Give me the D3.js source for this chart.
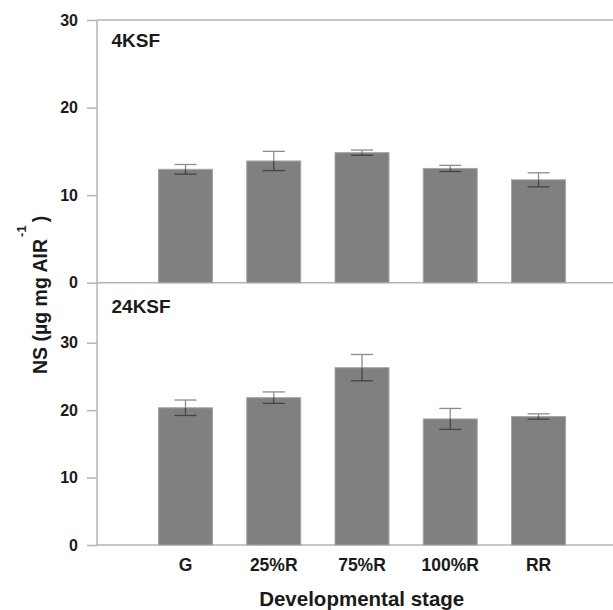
<!DOCTYPE html>
<html>
<head>
    <meta charset="utf-8">
    <title>NS by developmental stage</title>
    <script src="https://d3js.org/d3.v7.min.js"></script>
    <style>
        body { margin: 0; background: #fff; }
        text { font-family: "Liberation Sans", Arial, sans-serif; font-weight: bold; fill: #1a1a1a; }
    </style>
</head>
<body>
    <div id="chart"></div>

    <script>
        // data
        const stages = ["G", "25%R", "75%R", "100%R", "RR"];
        const ns4 = [12.95, 13.9, 14.85, 13.05, 11.75];
        const err4 = [0.55, 1.1, 0.3, 0.35, 0.8];
        const ns24 = [20.35, 21.85, 26.3, 18.7, 19.05];
        const err24 = [1.15, 0.85, 1.95, 1.55, 0.4];
        const yTicks = [0, 10, 20, 30];

        const W = 613, H = 610;
        const axisX = 97;

        const svg = d3.select("#chart")
            .append("svg")
            .attr("width", W)
            .attr("height", H);

        const x = d3.scaleBand()
            .domain(stages)
            .range([132, 592])
            .paddingInner(0.388)
            .paddingOuter(0.3);

        const yTop = d3.scaleLinear().domain([0, 30]).range([282.7, 20]);
        const yBot = d3.scaleLinear().domain([0, 30]).range([545, 342.7]);

        const panels = [
            {name: "4KSF", y: yTop, vals: ns4, errs: err4, labelY: 46.7, topLine: true},
            {name: "24KSF", y: yBot, vals: ns24, errs: err24, labelY: 313.3, topLine: false}
        ];

        panels.forEach(p => {
            const g = svg.append("g");

            // y axis ticks
            const ax = g.append("g")
                .attr("transform", `translate(${axisX},0)`)
                .call(d3.axisLeft(p.y).tickValues(yTicks).tickSize(10).tickPadding(9));
            ax.select(".domain").remove();
            ax.selectAll(".tick line").attr("stroke", "#b4b4b4").attr("stroke-width", 1.5);
            ax.selectAll(".tick text")
                .attr("fill", "#1a1a1a")
                .style("font-size", "16px")
                .style("font-family", "'Liberation Sans', Arial, sans-serif")
                .style("font-weight", "bold");

            // baseline
            g.append("line")
                .attr("x1", axisX).attr("x2", W)
                .attr("y1", p.y(0)).attr("y2", p.y(0))
                .attr("stroke", "#b4b4b4").attr("stroke-width", 1.5);

            if (p.topLine) {
                g.append("line")
                    .attr("x1", axisX).attr("x2", W)
                    .attr("y1", p.y(30)).attr("y2", p.y(30))
                    .attr("stroke", "#b4b4b4").attr("stroke-width", 1.5);
            }

            // bars
            g.selectAll(".bar")
                .data(stages)
                .enter()
                .append("rect")
                .attr("class", "bar")
                .attr("x", d => x(d))
                .attr("width", x.bandwidth())
                .attr("y", (d, i) => p.y(p.vals[i]))
                .attr("height", (d, i) => p.y(0) - p.y(p.vals[i]))
                .attr("fill", "#808080")
                .attr("stroke", "#a6a6a6")
                .attr("stroke-width", 1);

            // error bars: upper part light, lower part dark (over the bar)
            stages.forEach((d, i) => {
                const cx = x(d) + x.bandwidth() / 2;
                const v = p.vals[i], e = p.errs[i];
                const hw = 11;
                g.append("line")
                    .attr("x1", cx).attr("x2", cx)
                    .attr("y1", p.y(v + e)).attr("y2", p.y(v))
                    .attr("stroke", "#8c8c8c").attr("stroke-width", 1.3);
                g.append("line")
                    .attr("x1", cx - hw).attr("x2", cx + hw)
                    .attr("y1", p.y(v + e)).attr("y2", p.y(v + e))
                    .attr("stroke", "#8c8c8c").attr("stroke-width", 1.3);
                g.append("line")
                    .attr("x1", cx).attr("x2", cx)
                    .attr("y1", p.y(v)).attr("y2", p.y(v - e))
                    .attr("stroke", "#444").attr("stroke-width", 1.3);
                g.append("line")
                    .attr("x1", cx - hw).attr("x2", cx + hw)
                    .attr("y1", p.y(v - e)).attr("y2", p.y(v - e))
                    .attr("stroke", "#444").attr("stroke-width", 1.3);
            });

            // panel label
            g.append("text")
                .attr("x", 111.5)
                .attr("y", p.labelY)
                .style("font-size", "19px")
                .text(p.name);
        });

        // continuous left axis line
        svg.append("line")
            .attr("x1", axisX).attr("x2", axisX)
            .attr("y1", yTop(30)).attr("y2", yBot(0))
            .attr("stroke", "#b4b4b4").attr("stroke-width", 1.5);

        // x category labels
        svg.selectAll(".xlab")
            .data(stages)
            .enter()
            .append("text")
            .attr("class", "xlab")
            .attr("x", d => x(d) + x.bandwidth() / 2)
            .attr("y", 571)
            .attr("text-anchor", "middle")
            .style("font-size", "17.5px")
            .text(d => d);

        // axis titles
        svg.append("text")
            .attr("x", 361.7)
            .attr("y", 606)
            .attr("text-anchor", "middle")
            .style("font-size", "20.5px")
            .text("Developmental stage");

        const yt = svg.append("text")
            .attr("transform", "translate(46.5,374) rotate(-90)")
            .attr("x", 0).attr("y", 0)
            .style("font-size", "19.5px");
        yt.append("tspan").text("NS (\u00b5g mg AIR");
        yt.append("tspan").attr("dx", 2).attr("dy", -21).style("font-size", "13px").text("-1");
        yt.append("tspan").attr("dx", 3).attr("dy", 21).text(")");
    </script>
</body>
</html>
